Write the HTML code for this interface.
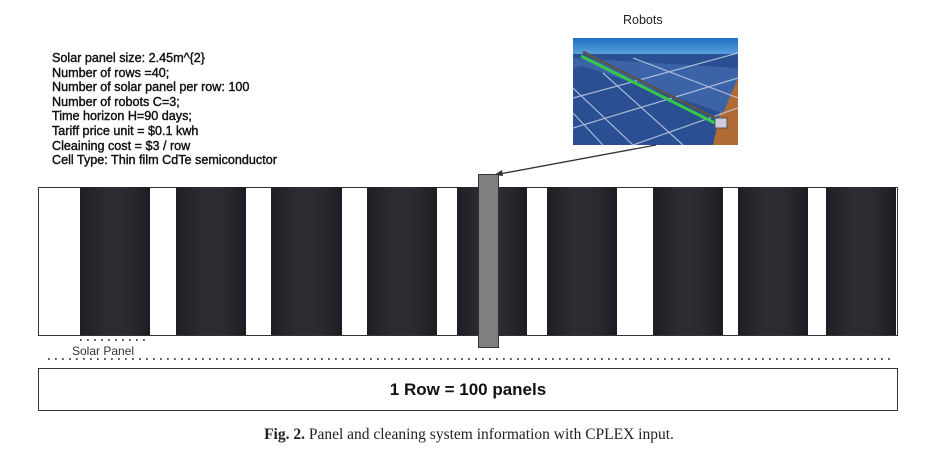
<!DOCTYPE html>
<html><head><meta charset="utf-8"><style>
body{margin:0;width:938px;height:457px;background:#fff;position:relative;overflow:hidden;font-family:"Liberation Sans",Arial,sans-serif}
.a{position:absolute}
.p{position:absolute;top:187px;height:148px;background:linear-gradient(90deg,#1e1e24 0%,#2d2d33 40%,#2a2a30 70%,#1c1c22 100%)}
.info{left:52px;top:51px;font-size:12.6px;line-height:14.6px;color:#111;-webkit-text-stroke:0.4px #111}
</style></head><body>
<div class="a info">Solar panel size: 2.45m^{2}<br>Number of rows =40;<br>Number of solar panel per row: 100<br>Number of robots C=3;<br>Time horizon H=90 days;<br>Tariff price unit = $0.1 kwh<br>Cleaining cost = $3 / row<br>Cell Type: Thin film CdTe semiconductor</div>
<div class="a" style="left:623px;top:13px;font-size:12.5px;color:#222">Robots</div>
<svg class="a" style="left:573px;top:38px" width="165" height="107" viewBox="0 0 165 107">
<defs><linearGradient id="sk" x1="0" y1="0" x2="0" y2="1"><stop offset="0" stop-color="#1d6fc4"/><stop offset="1" stop-color="#5aa0dc"/></linearGradient></defs>
<rect width="165" height="107" fill="#2b4f93"/>
<rect width="165" height="16" fill="url(#sk)"/>
<polygon points="150,60 165,40 165,107 140,107" fill="#b06a35"/>
<polygon points="0,30 10,28 150,75 165,40 165,30 0,20" fill="#3c63a8"/>
<g stroke="#c8d4e8" stroke-width="1.2" opacity=".8">
<line x1="0" y1="50" x2="60" y2="107"/><line x1="0" y1="75" x2="30" y2="107"/><line x1="30" y1="35" x2="110" y2="107"/>
<line x1="0" y1="60" x2="165" y2="15"/><line x1="0" y1="90" x2="165" y2="40"/><line x1="60" y1="107" x2="165" y2="70"/>
<line x1="60" y1="20" x2="165" y2="60"/></g>
<line x1="8" y1="18" x2="148" y2="88" stroke="#35c94a" stroke-width="3"/>
<line x1="10" y1="14" x2="150" y2="84" stroke="#555" stroke-width="3"/>
<rect x="142" y="80" width="12" height="10" fill="#ccd" stroke="#555"/>
</svg>
<div class="a" style="left:38px;top:187px;width:858px;height:147px;border:1px solid #333"></div>
<div class="p" style="left:80px;width:70px"></div>
<div class="p" style="left:176px;width:70px"></div>
<div class="p" style="left:271px;width:71px"></div>
<div class="p" style="left:367px;width:70px"></div>
<div class="p" style="left:457px;width:70px"></div>
<div class="p" style="left:547px;width:70px"></div>
<div class="p" style="left:653px;width:70px"></div>
<div class="p" style="left:738px;width:70px"></div>
<div class="p" style="left:826px;width:70px"></div>
<svg class="a" style="left:0;top:0" width="938" height="457">
<line x1="656" y1="145" x2="494" y2="175" stroke="#333" stroke-width="1.3"/>
<polygon points="494,175 502,170 503,176" fill="#333"/>
<line x1="48" y1="359" x2="892" y2="359" stroke="#444" stroke-width="1.8" stroke-dasharray="1.8 5.2"/>
<line x1="80" y1="340" x2="150" y2="340" stroke="#444" stroke-width="1.8" stroke-dasharray="1.8 5.2"/>
</svg>
<div class="a" style="left:478px;top:174px;width:19px;height:172px;background:#7f7f7f;border:1px solid #333"></div>
<div class="a" style="left:72px;top:344px;font-size:12px;color:#333">Solar Panel</div>
<div class="a" style="left:38px;top:368px;width:858px;height:41px;border:1px solid #333;text-align:center;line-height:41px;font-size:17px;font-weight:bold;color:#111">1 Row = 100 panels</div>
<div class="a" style="left:0;width:938px;top:426px;text-align:center;font-family:'Liberation Serif',serif;font-size:15.5px;color:#222"><b>Fig. 2.</b> Panel and cleaning system information with CPLEX input.</div>
</body></html>
